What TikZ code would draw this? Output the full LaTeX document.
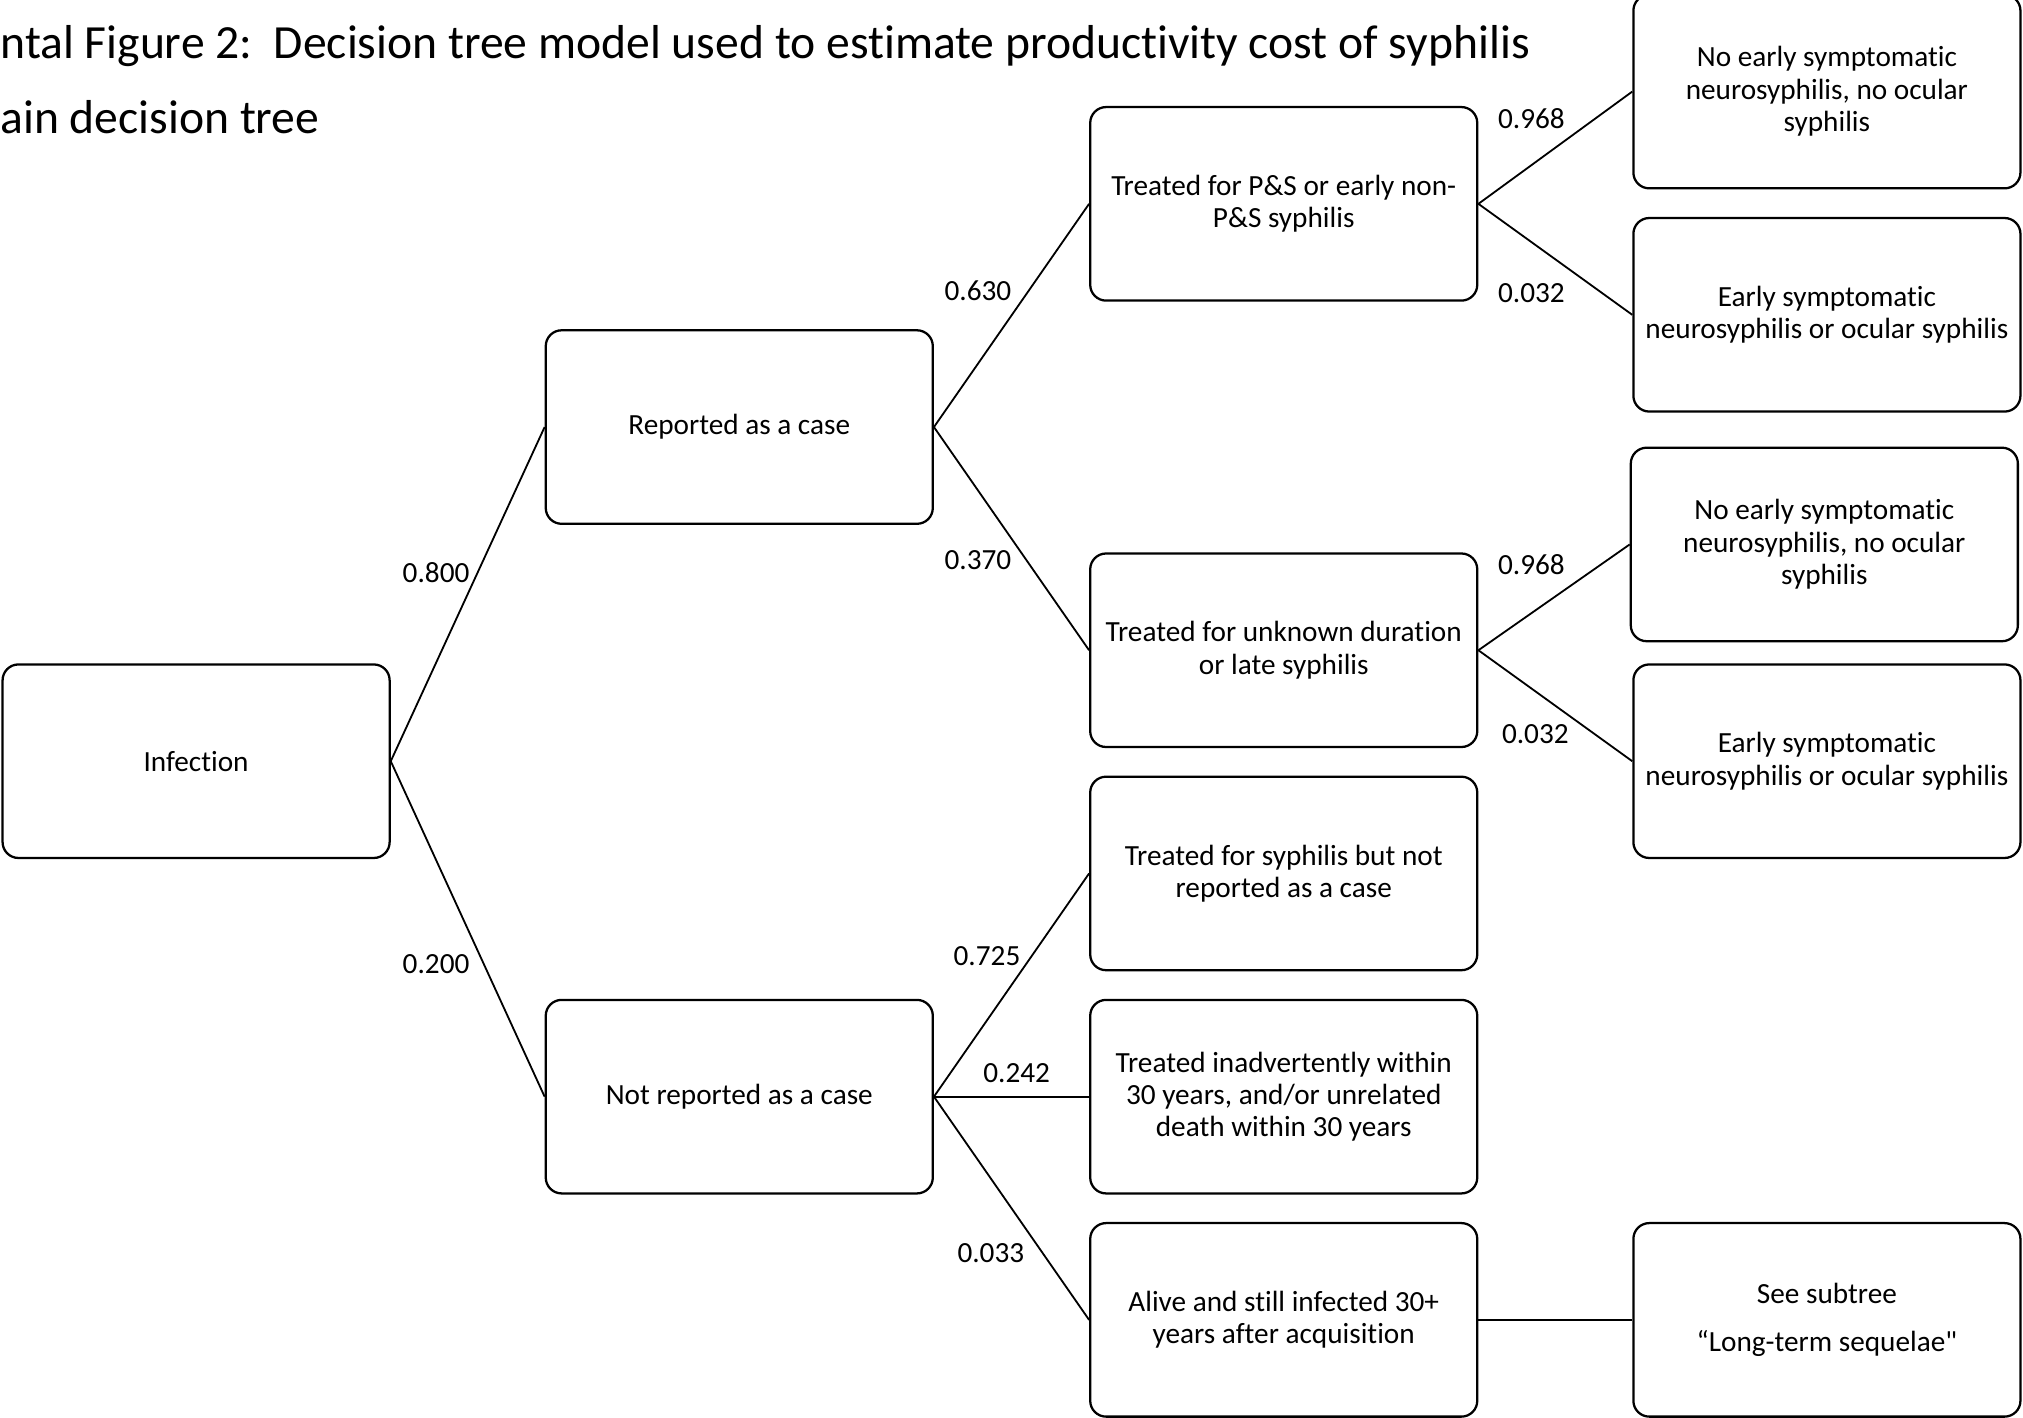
\documentclass[tikz,border=0pt]{standalone}
\usepackage{fontspec}
\setmainfont{Carlito}[Ligatures={TeX,NoCommon}]
\usepackage{tikz}

\begin{document}
\begin{tikzpicture}[
  box/.style={draw, line width=1pt, rounded corners=7pt, minimum width=6cm,
    minimum height=3cm, align=center, font=\fontsize{12.9}{14.3}\selectfont},
  branch/.style={line width=0.8pt},
  prob/.style={font=\fontsize{12.9}{14.3}\selectfont, inner sep=1pt},
  heading/.style={anchor=west, inner sep=0pt, font=\fontsize{21}{25}\selectfont},
]
\useasboundingbox (0,0) rectangle (31.36,-21.98);

% --- Title (cut at the left edge) ---
\node[heading] (title) at (0,-0.72)
  {ntal Figure 2:\ \ Decision tree model used to estimate productivity cost of syphilis};
\node[heading] (subtitle) at (0,-1.82) {ain decision tree};

% --- Root and first split ---
\node[box] (inf) at (3.04,-11.8) {Infection};
\node[box] (rep) at (11.46,-6.62) {Reported as a case};
\node[box] (notrep) at (11.46,-17.0) {Not reported as a case};

% --- Second split ---
\node[box] (ps) at (19.9,-3.16)
  {Treated for P\&S or early non-\\P\&S syphilis};
\node[box] (unk) at (19.9,-10.08)
  {Treated for unknown duration\\or late syphilis};
\node[box] (trnr) at (19.9,-13.54)
  {Treated for syphilis but not\\reported as a case};
\node[box] (inadv) at (19.9,-17.0)
  {Treated inadvertently within\\30 years, and/or unrelated\\death within 30 years};
\node[box] (alive) at (19.9,-20.46)
  {Alive and still infected 30+\\years after acquisition};

% --- Outcomes ---
\node[box] (noneuro1) at (28.32,-1.42)
  {No early symptomatic\\neurosyphilis, no ocular\\syphilis};
\node[box] (neuro1) at (28.32,-4.88)
  {Early symptomatic\\neurosyphilis or ocular syphilis};
\node[box] (noneuro2) at (28.28,-8.44)
  {No early symptomatic\\neurosyphilis, no ocular\\syphilis};
\node[box] (neuro2) at (28.32,-11.8)
  {Early symptomatic\\neurosyphilis or ocular syphilis};
\node[box] (subtree) at (28.32,-20.46)
  {See subtree\\[0.5em]``Long-term sequelae\XeTeXglyph\XeTeXcharglyph"22};

% --- Branches ---
\draw[branch] (inf.east) -- (rep.west);
\draw[branch] (inf.east) -- (notrep.west);
\draw[branch] (rep.east) -- (ps.west);
\draw[branch] (rep.east) -- (unk.west);
\draw[branch] (notrep.east) -- (trnr.west);
\draw[branch] (notrep.east) -- (inadv.west);
\draw[branch] (notrep.east) -- (alive.west);
\draw[branch] (ps.east) -- (noneuro1.west);
\draw[branch] (ps.east) -- (neuro1.west);
\draw[branch] (unk.east) -- (noneuro2.west);
\draw[branch] (unk.east) -- (neuro2.west);
\draw[branch] (alive.east) -- (subtree.west);

% --- Probabilities ---
\node[prob] (p1) at (6.76,-8.88) {0.800};
\node[prob] (p2) at (6.76,-14.94) {0.200};
\node[prob] (p3) at (15.16,-4.5) {0.630};
\node[prob] (p4) at (15.16,-8.68) {0.370};
\node[prob] (p5) at (15.3,-14.82) {0.725};
\node[prob] (p6) at (15.76,-16.64) {0.242};
\node[prob] (p7) at (15.36,-19.42) {0.033};
\node[prob] (p8) at (23.74,-1.84) {0.968};
\node[prob] (p9) at (23.74,-4.54) {0.032};
\node[prob] (p10) at (23.74,-8.76) {0.968};
\node[prob] (p11) at (23.8,-11.38) {0.032};

\end{tikzpicture}
\end{document}
